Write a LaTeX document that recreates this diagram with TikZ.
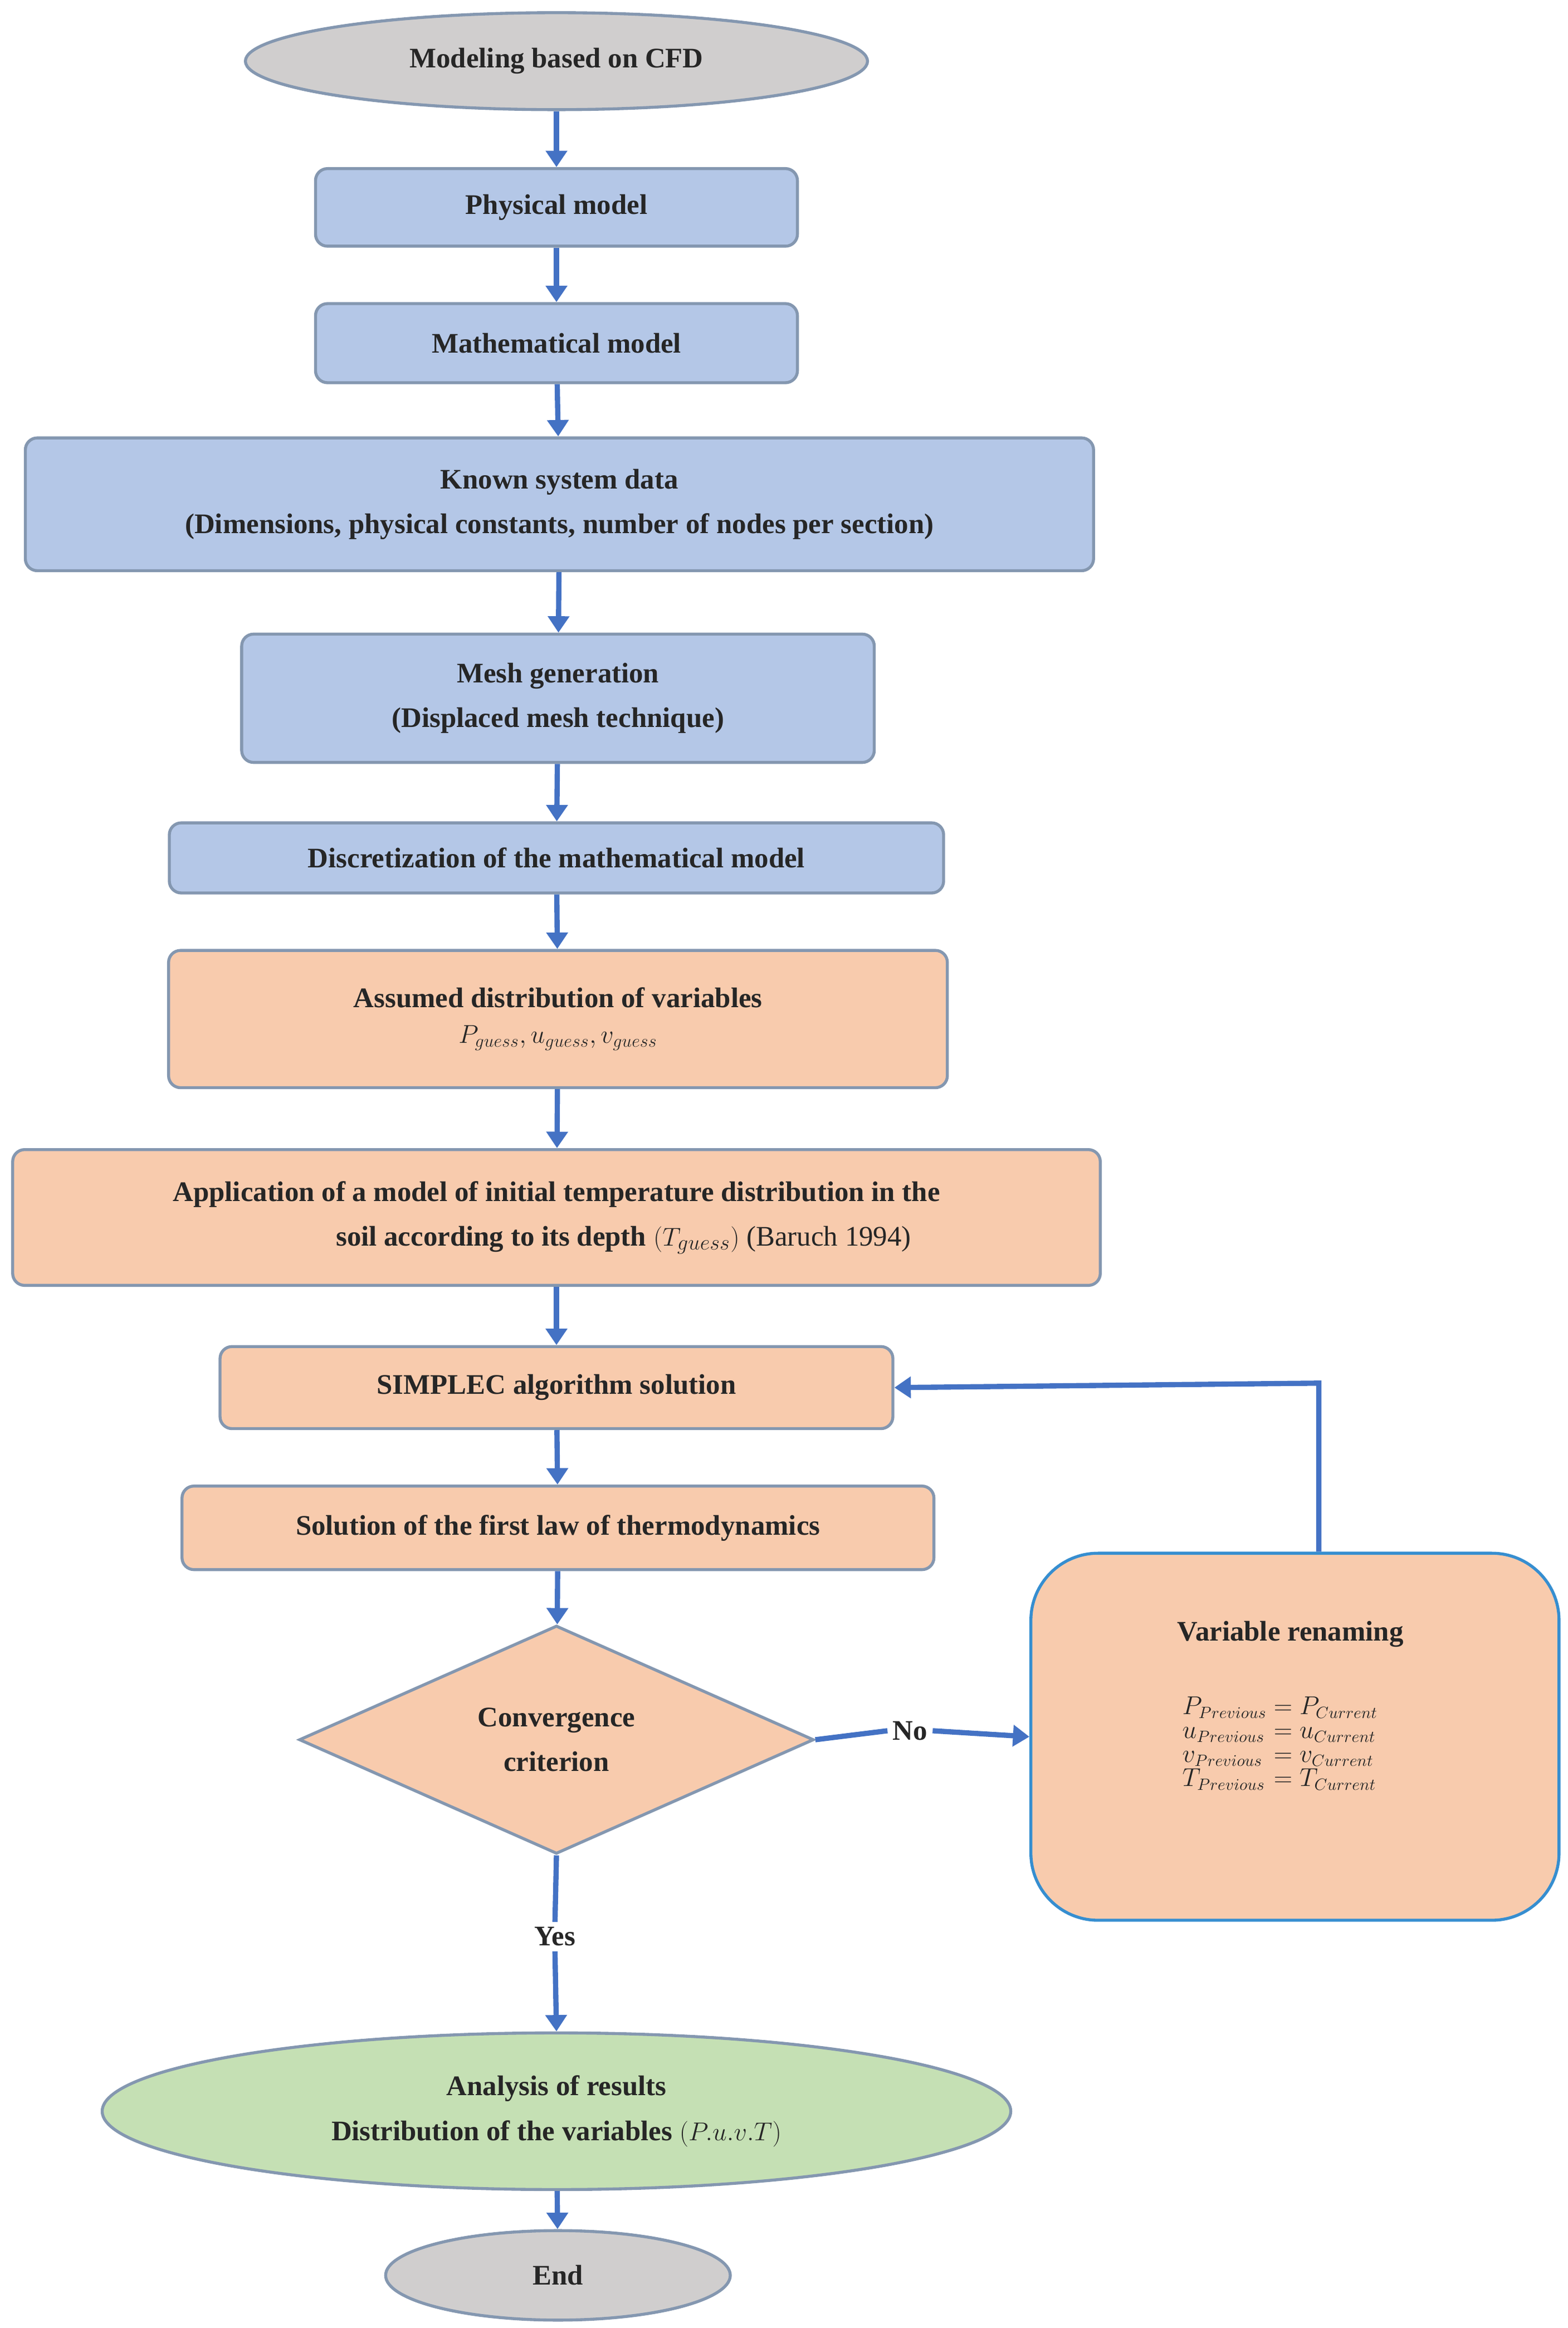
\documentclass[tikz,border=0pt]{standalone}
\usepackage{fontspec}
\setmainfont{Liberation Serif}
\usetikzlibrary{shapes.geometric,arrows.meta}
\definecolor{blu}{HTML}{B4C7E7}
\definecolor{ora}{HTML}{F8CBAD}
\definecolor{gry}{HTML}{D0CECE}
\definecolor{grn}{HTML}{C5E0B4}
\definecolor{edge}{HTML}{8497B0}
\definecolor{arr}{HTML}{4472C4}
\begin{document}
\begin{tikzpicture}[x=1pt,y=-1pt,
  txt/.style={font=\fontsize{19}{30}\selectfont\bfseries, align=center, text=black!85},
  box/.style={txt, draw=edge, line width=2pt, rounded corners=8pt, inner sep=0pt},
  bbox/.style={box, fill=blu},
  obox/.style={box, fill=ora},
  ell/.style={txt, ellipse, draw=edge, line width=2pt, inner sep=0pt},
  ar/.style={draw=arr, line width=3.5pt, -{Triangle[length=11pt,width=14pt]}},
  ln/.style={draw=arr, line width=3.5pt}]
\useasboundingbox (0,0) rectangle (1051,1560.3);
\node[ell, fill=gry, minimum width=417, minimum height=65] (s) at (373,41) {Modeling based on CFD};
\node[bbox, minimum width=323, minimum height=52] (phy) at (373,139) {Physical model};
\node[bbox, minimum width=323, minimum height=53] (mat) at (373,230) {Mathematical model};
\node[bbox, minimum width=716, minimum height=89] (known) at (375,338) {Known system data\\(Dimensions, physical constants, number of nodes per section)};
\node[bbox, minimum width=424, minimum height=86] (mesh) at (374,468) {Mesh generation\\(Displaced mesh technique)};
\node[bbox, minimum width=519, minimum height=47] (disc) at (373,575) {Discretization of the mathematical model};
\node[obox, minimum width=522, minimum height=92] (ass) at (374,683) {Assumed distribution of variables\\[-6pt]\mdseries\itshape\fontsize{17}{20}\selectfont $P_{guess},u_{guess},v_{guess}$};
\node[obox, minimum width=729, minimum height=91] (app) at (373,816) {Application of a model of initial temperature distribution in the\\\hspace*{90pt}soil according to its depth {\mdseries $(T_{guess})$ (Baruch 1994)}};
\node[obox, minimum width=451, minimum height=55] (simp) at (373,930) {SIMPLEC algorithm solution};
\node[obox, minimum width=504, minimum height=56] (sol) at (374,1024) {Solution of the first law of thermodynamics};
\node[txt, diamond, aspect=2.25, draw=edge, line width=2pt, fill=ora, minimum width=345, minimum height=153, inner sep=0pt] (conv) at (373,1166) {Convergence\\criterion};
\node[obox, rounded corners=45pt, draw=arr!80!cyan, minimum width=354, minimum height=246] (var) at (868,1164) {};
\node[txt, anchor=north] (vt) at (865,1083) {Variable renaming};
\node[txt, anchor=north, font=\fontsize{16}{18}\selectfont\mdseries] (eqs) at (858,1133) {$\begin{array}{l@{\;=\;}l}P_{Previous}&P_{Current}\\[-2pt] u_{Previous}&u_{Current}\\[-2pt] v_{Previous}&v_{Current}\\[-2pt] T_{Previous}&T_{Current}\end{array}$};
\node[ell, fill=grn, minimum width=609, minimum height=105] (ana) at (373,1415) {Analysis of results\\Distribution of the variables {\mdseries $(P.u.v.T)$}};
\node[ell, fill=gry, minimum width=231, minimum height=60] (end) at (374,1525) {End};
\node[txt] (no) at (610,1160) {No};
\node[txt] (yes) at (372,1298) {Yes};
\draw[ar] (s) -- (phy);
\draw[ar] (phy) -- (mat);
\draw[ar] (mat) -- (known);
\draw[ar] (known) -- (mesh);
\draw[ar] (mesh) -- (disc);
\draw[ar] (disc) -- (ass);
\draw[ar] (ass) -- (app);
\draw[ar] (app) -- (simp);
\draw[ar] (simp) -- (sol);
\draw[ar] (sol) -- (conv);
\draw[ln] (conv.east) -- (no.west);
\draw[ar] (no.east) -- (var.west);
\draw[ln] (conv.south) -- (yes.north);
\draw[ar] (yes.south) -- (ana.north);
\draw[ar] (ana) -- (end);
\coordinate (c1) at (884,927);
\draw[ar] (var.north -| c1) -- (c1) -- (simp.east);
\end{tikzpicture}
\end{document}
